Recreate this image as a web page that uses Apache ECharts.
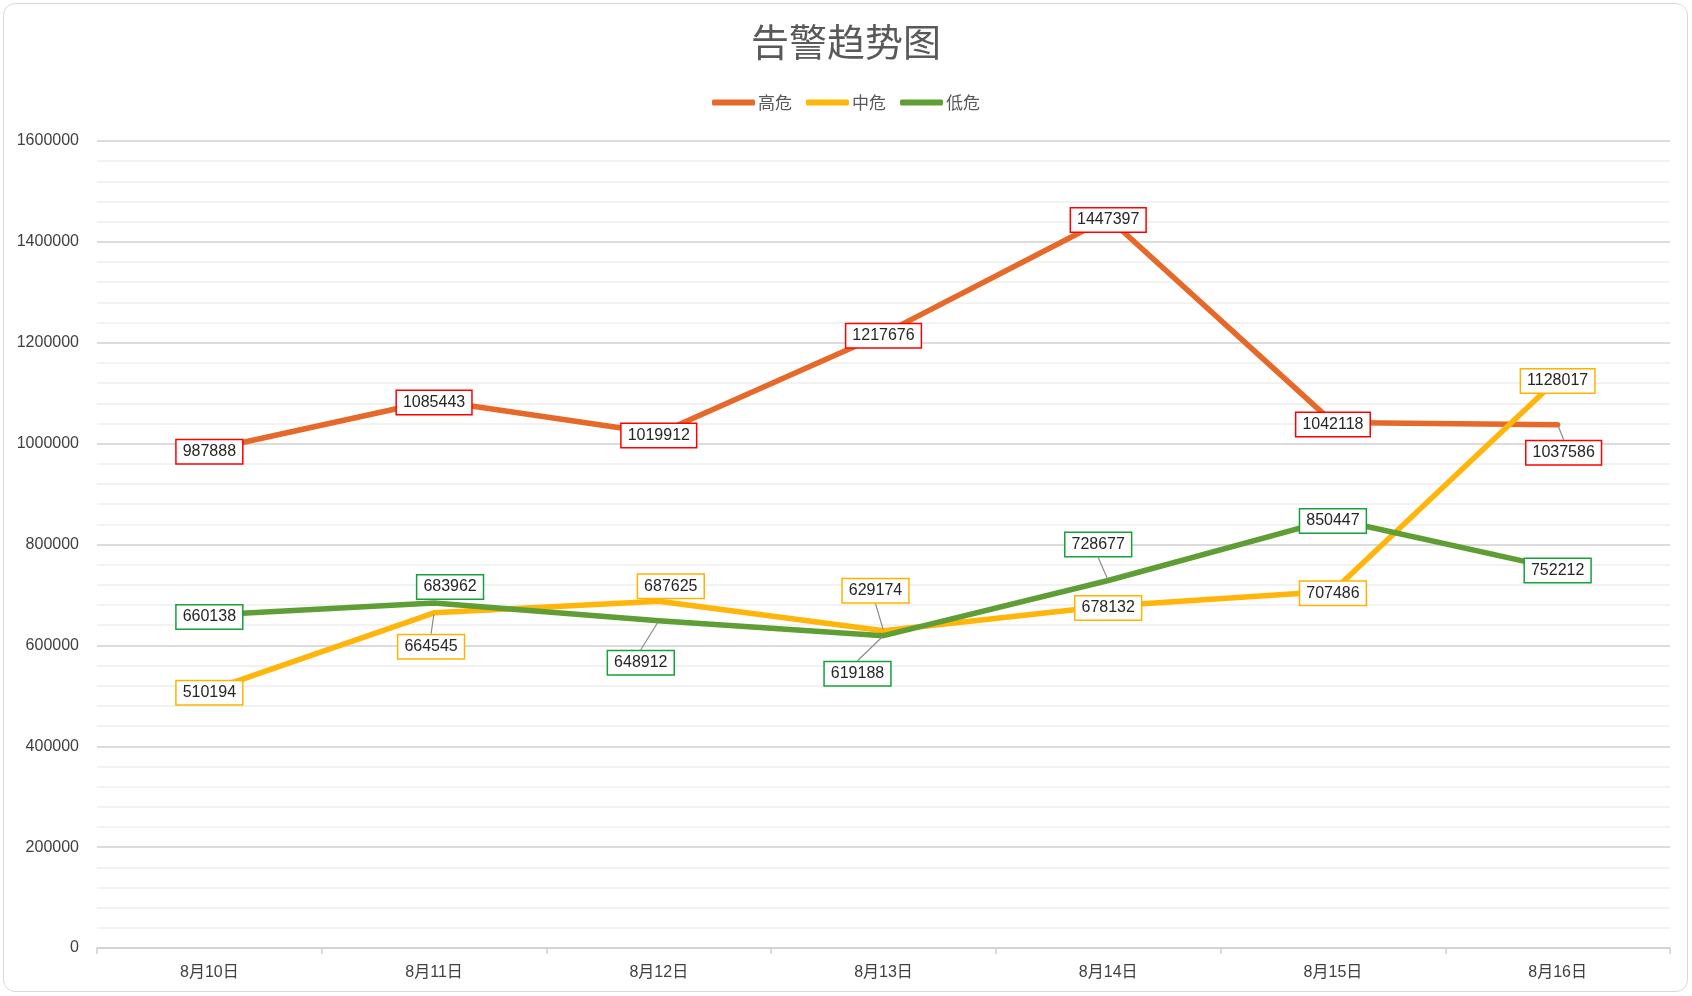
<!DOCTYPE html>
<html>
<head>
<meta charset="utf-8">
<script src="https://cdn.jsdelivr.net/npm/echarts@6/dist/echarts.min.js"></script>
<style>
html,body{margin:0;padding:0;background:#fff;}
#wrap{position:relative;width:1692px;height:996px;}
#chart{position:absolute;left:0;top:0;width:1692px;height:996px;}
#frame{position:absolute;left:3px;top:3px;width:1683px;height:987px;border:1.5px solid #d9d9d9;border-radius:12px;pointer-events:none;}
</style>
</head>
<body>
<div id="wrap"><div id="chart"></div><div id="frame"></div></div>
<script>
const categories = ['8月10日','8月11日','8月12日','8月13日','8月14日','8月15日','8月16日'];
const seriesNames = ['高危','中危','低危'];
const highValues = [987888, 1085443, 1019912, 1217676, 1447397, 1042118, 1037586];
const midValues  = [510194, 664545, 687625, 629174, 678132, 707486, 1128017];
const lowValues  = [660138, 683962, 648912, 619188, 728677, 850447, 752212];
const yTicks = [0, 200000, 400000, 600000, 800000, 1000000, 1200000, 1400000, 1600000];

// styling / label placement (not data)
const lineColors  = ['#E6692A', '#FFB50A', '#5E9E34'];
const labelBorder = ['#FF0000', '#FFB300', '#16A03C'];
const labelOffsets = [
  [[0,0],[0,0],[0,0],[0,0],[0,0],[0,0],[6,26]],
  [[0,0],[-3,32],[12,-17],[-8,-42],[0,0],[0,0],[0,0]],
  [[0,0],[16,-18],[-18,40],[-26,36],[-10,-38],[0,0],[0,0]]
];
const leaderShown = [
  [false,false,false,false,false,false,true],
  [false,true,false,true,false,false,false],
  [false,false,true,true,true,false,false]
];

const FONT = "'Liberation Sans','Noto Sans CJK SC',sans-serif";
const allValues = [highValues, midValues, lowValues];

const chart = echarts.init(document.getElementById('chart'), null, {renderer:'canvas'});

const series = allValues.map((vals, si) => ({
  name: seriesNames[si],
  type: 'line',
  data: vals.map((v, di) => ({
    value: v,
    labelLine: {show: leaderShown[si][di]}
  })),
  z: 2 + si,
  symbol: 'circle',
  symbolSize: 3,
  showSymbol: true,
  itemStyle: {color: lineColors[si]},
  lineStyle: {color: lineColors[si], width: 5.5, cap: 'round', join: 'round'},
  emphasis: {disabled: true},
  label: {
    show: true,
    position: 'inside',
    fontFamily: FONT,
    fontSize: 16,
    lineHeight: 18,
    color: '#262626',
    backgroundColor: '#ffffff',
    borderColor: labelBorder[si],
    borderWidth: 1.5,
    padding: [3, 6, 2, 6]
  },
  labelLine: {
    show: false,
    smooth: false,
    lineStyle: {color: '#8c8c8c', width: 1.2}
  },
  labelLayout: function (params) {
    const o = labelOffsets[params.seriesIndex][params.dataIndex];
    return {dx: o[0], dy: o[1] + 2};
  }
}));

chart.setOption({
  animation: false,
  backgroundColor: '#ffffff',
  title: {
    text: '告警趋势图',
    left: 'center',
    top: 18,
    textStyle: {fontFamily: "'Noto Sans CJK SC',sans-serif", fontSize: 38, fontWeight: 'normal', color: '#595959'}
  },
  legend: {
    data: seriesNames,
    top: 89,
    left: 'center',
    itemWidth: 43,
    itemHeight: 6,
    itemGap: 14,
    icon: 'roundRect',
    textStyle: {fontFamily: "'Noto Sans CJK SC',sans-serif", fontSize: 17, color: '#595959', padding: [0,0,0,-2]}
  },
  grid: {left: 97, right: 22, top: 141, bottom: 48, containLabel: false},
  xAxis: {
    type: 'category',
    data: categories,
    boundaryGap: true,
    axisLine: {show: true, lineStyle: {color: '#d0d0d0', width: 1.5}},
    axisTick: {show: true, length: 6, lineStyle: {color: '#d0d0d0', width: 1.5}},
    axisLabel: {fontFamily: FONT, fontSize: 16, color: '#404040', margin: 17},
    splitLine: {show: false}
  },
  yAxis: {
    type: 'value',
    min: yTicks[0],
    max: yTicks[yTicks.length - 1],
    interval: yTicks[1] - yTicks[0],
    axisLine: {show: false},
    axisTick: {show: false},
    axisLabel: {fontFamily: FONT, fontSize: 16, color: '#404040', margin: 18, formatter: v => String(v)},
    splitLine: {show: true, lineStyle: {color: '#d0d0d0', width: 1.5}},
    minorTick: {show: false, splitNumber: 5},
    minorSplitLine: {show: true, lineStyle: {color: '#eeeeee', width: 1.5}}
  },
  series: series
});
</script>
</body>
</html>
